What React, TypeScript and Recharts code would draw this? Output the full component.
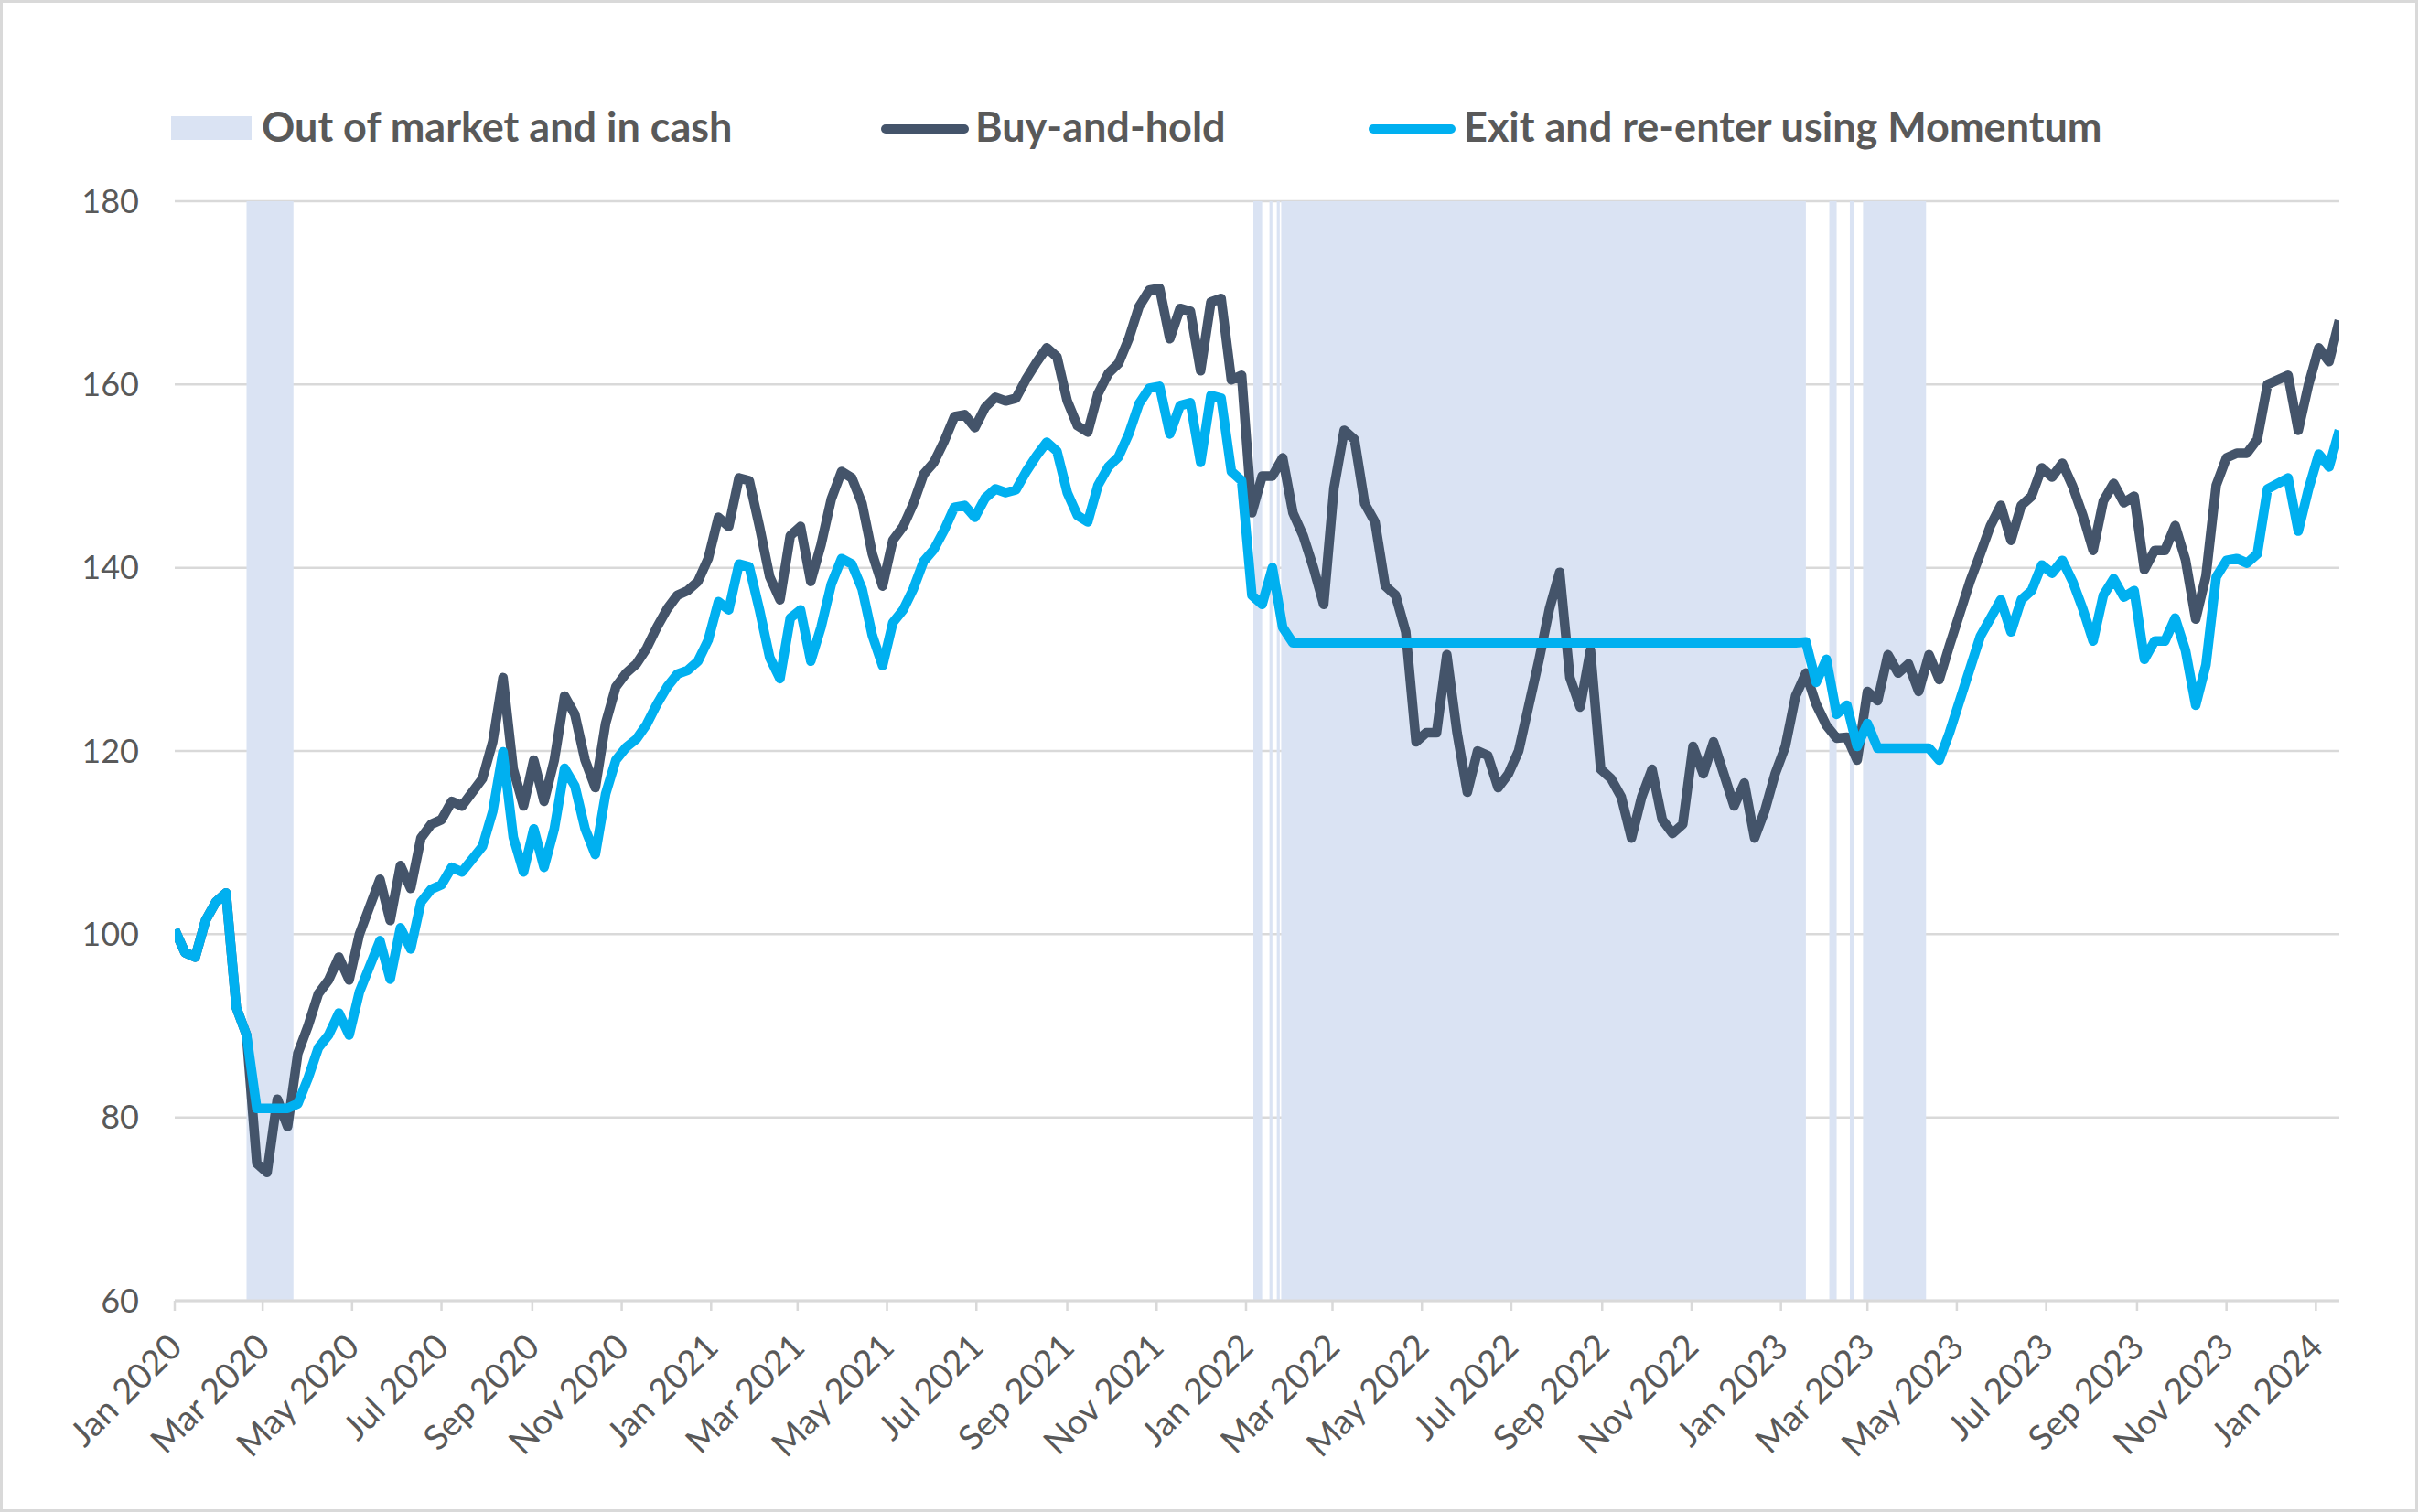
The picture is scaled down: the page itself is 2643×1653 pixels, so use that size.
import { CartesianGrid, Line, LineChart, ReferenceArea, XAxis, YAxis } from "recharts";

// weekly index levels, first point = 1 Jan 2020
const buyAndHold = [
  100.5, 98.0, 97.5, 101.5, 103.5, 104.5, 92.0, 89.0, 75.0, 74.0,
  82.0, 79.0, 87.0, 90.0, 93.5, 95.0, 97.5, 95.0, 100.0, 103.0,
  106.0, 101.5, 107.5, 105.0, 110.5, 112.0, 112.5, 114.5, 114.0, 115.5,
  117.0, 121.0, 128.0, 118.0, 114.0, 119.0, 114.5, 119.0, 126.0, 124.0,
  119.0, 116.0, 123.0, 127.0, 128.5, 129.5, 131.2, 133.5, 135.5, 137.0,
  137.5, 138.5, 141.0, 145.5, 144.5, 149.8, 149.5, 144.5, 139.0, 136.5,
  143.5, 144.5, 138.5, 142.5, 147.5, 150.5, 149.8, 147.0, 141.5, 138.0,
  143.0, 144.5, 147.0, 150.2, 151.5, 153.8, 156.5, 156.7, 155.3, 157.5,
  158.6, 158.2, 158.5, 160.6, 162.4, 164.0, 163.0, 158.2, 155.5, 154.8,
  159.0, 161.2, 162.3, 165.0, 168.5, 170.3, 170.5, 165.0, 168.3, 168.0,
  161.5, 169.0, 169.4, 160.5, 161.0, 146.0, 150.0, 150.0, 152.0, 146.0,
  143.5, 140.0, 136.0, 148.7, 155.0, 154.0, 147.0, 145.0, 138.0, 137.0,
  133.0, 121.0, 122.0, 122.0, 130.5, 122.0, 115.5, 120.0, 119.5, 116.0,
  117.5, 120.0, 125.0, 130.0, 135.5, 139.5, 128.0, 124.8, 131.0, 118.0,
  117.0, 115.0, 110.5, 115.0, 118.0, 112.5, 111.0, 112.0, 120.5, 117.5,
  121.0, 117.5, 114.0, 116.5, 110.5, 113.5, 117.5, 120.5, 126.0, 128.5,
  125.1, 122.8, 121.4, 121.5, 119.0, 126.5, 125.5, 130.5, 128.5, 129.5,
  126.5, 130.5, 127.8, 131.5, 135.0, 138.5, 141.5, 144.6, 146.8, 143.0,
  146.8, 147.8, 150.9, 149.9, 151.4, 148.9, 145.7, 141.9, 147.3, 149.2,
  147.1, 147.8, 139.8, 141.9, 141.9, 144.6, 140.9, 134.4, 139.1, 149.0,
  152.0, 152.5, 152.5, 154.0, 160.0, 160.5, 161.0, 155.0, 160.0, 164.0,
  162.5, 167.0,
];

const momentum = [
  100.5, 98.0, 97.5, 101.5, 103.5, 104.5, 92.0, 89.0, 81.0, 81.0,
  81.0, 81.0, 81.5, 84.3, 87.6, 89.0, 91.4, 89.0, 93.7, 96.5,
  99.3, 95.1, 100.7, 98.4, 103.5, 104.9, 105.4, 107.3, 106.8, 108.2,
  109.6, 113.4, 119.9, 110.6, 106.8, 111.5, 107.3, 111.5, 118.1, 116.2,
  111.5, 108.7, 115.3, 119.0, 120.4, 121.3, 122.9, 125.1, 127.0, 128.4,
  128.8, 129.8, 132.1, 136.3, 135.4, 140.4, 140.1, 135.4, 130.2, 127.9,
  134.5, 135.4, 129.8, 133.5, 138.2, 141.0, 140.4, 137.7, 132.6, 129.3,
  134.0, 135.4, 137.7, 140.7, 142.0, 144.1, 146.6, 146.8, 145.5, 147.6,
  148.6, 148.2, 148.5, 150.5, 152.2, 153.7, 152.7, 148.2, 145.7, 145.0,
  149.0, 151.0, 152.1, 154.6, 157.9, 159.6, 159.8, 154.6, 157.7, 158.0,
  151.5, 158.8, 158.5, 150.5, 149.5, 137.0, 136.0, 140.0, 133.5, 131.8,
  131.8, 131.8, 131.8, 131.8, 131.8, 131.8, 131.8, 131.8, 131.8, 131.8,
  131.8, 131.8, 131.8, 131.8, 131.8, 131.8, 131.8, 131.8, 131.8, 131.8,
  131.8, 131.8, 131.8, 131.8, 131.8, 131.8, 131.8, 131.8, 131.8, 131.8,
  131.8, 131.8, 131.8, 131.8, 131.8, 131.8, 131.8, 131.8, 131.8, 131.8,
  131.8, 131.8, 131.8, 131.8, 131.8, 131.8, 131.8, 131.8, 131.8, 131.9,
  127.5, 130.0, 124.0, 125.0, 120.5, 123.0, 120.3, 120.3, 120.3, 120.3,
  120.3, 120.3, 119.0, 122.0, 125.5, 129.0, 132.5, 134.5, 136.5, 133.0,
  136.5, 137.5, 140.3, 139.4, 140.8, 138.5, 135.5, 132.0, 137.0, 138.8,
  136.8, 137.5, 130.0, 132.0, 132.0, 134.5, 131.0, 125.0, 129.4, 139.0,
  140.8, 141.0, 140.5, 141.5, 148.6, 149.2, 149.8, 144.0, 148.6, 152.4,
  151.0, 155.0,
];

const tickLabels = [
  "Jan 2020", "Mar 2020", "May 2020", "Jul 2020", "Sep 2020", "Nov 2020",
  "Jan 2021", "Mar 2021", "May 2021", "Jul 2021", "Sep 2021", "Nov 2021",
  "Jan 2022", "Mar 2022", "May 2022", "Jul 2022", "Sep 2022", "Nov 2022",
  "Jan 2023", "Mar 2023", "May 2023", "Jul 2023", "Sep 2023", "Nov 2023",
  "Jan 2024",
];

const yTicks = [60, 80, 100, 120, 140, 160, 180];

// periods when the momentum strategy sat in cash
const cashPeriods: [string, string][] = [
  ["2020-02-19", "2020-03-22"],
  ["2022-01-06", "2022-01-12"],
  ["2022-01-17", "2022-01-19"],
  ["2022-01-22", "2022-01-24"],
  ["2022-01-25", "2023-01-18"],
  ["2023-02-03", "2023-02-08"],
  ["2023-02-17", "2023-02-20"],
  ["2023-02-26", "2023-04-10"],
];

const MONTHS = ["Jan", "Feb", "Mar", "Apr", "May", "Jun", "Jul", "Aug", "Sep", "Oct", "Nov", "Dec"];
const DAY_MS = 86400000;
const START = Date.UTC(2020, 0, 1);
const LAST_DAY = (buyAndHold.length - 1) * 7;

const TEXT = "#595959";
const GRID = "#d9d9d9";
const SHADE = "#dae3f3";
const DARK = "#44546a";
const BLUE = "#00b0f0";
const FONT = "Lato, 'Open Sans', sans-serif";

function dayOf(iso: string) {
  const [y, m, d] = iso.split("-").map(Number);
  return (Date.UTC(y, m - 1, d) - START) / DAY_MS;
}

function labelDay(label: string) {
  const [mon, year] = label.split(" ");
  return (Date.UTC(Number(year), MONTHS.indexOf(mon), 1) - START) / DAY_MS;
}

const xTicks = tickLabels.map(labelDay);

const chartData = buyAndHold.map((value, i) => ({
  day: i * 7,
  buyHold: value,
  momentum: momentum[i],
}));

function DateTick({ x, y, payload }: any) {
  const label = tickLabels[xTicks.indexOf(payload.value)];
  const ax = x + 10;
  const ay = y + 40;
  return (
    <text
      x={ax}
      y={ay}
      transform={`rotate(-45 ${ax} ${ay})`}
      textAnchor="end"
      fill={TEXT}
      fontSize={38}
      fontFamily={FONT}
    >
      {label}
    </text>
  );
}

function LegendRow() {
  return (
    <svg
      width={2643}
      height={200}
      style={{ position: "absolute", left: 0, top: 0 }}
    >
      <rect x={187} y={127} width={88} height={26} fill={SHADE} />
      <text x={286} y={154.5} fill={TEXT} fontSize={45} fontWeight={700} fontFamily={FONT}>
        Out of market and in cash
      </text>
      <line x1={968} x2={1054} y1={141} y2={141} stroke={DARK} strokeWidth={10} strokeLinecap="round" />
      <text x={1066} y={154.5} fill={TEXT} fontSize={45} fontWeight={700} fontFamily={FONT}>
        Buy-and-hold
      </text>
      <line x1={1501} x2={1586} y1={141} y2={141} stroke={BLUE} strokeWidth={10} strokeLinecap="round" />
      <text x={1600} y={154.5} fill={TEXT} fontSize={45} fontWeight={700} fontFamily={FONT}>
        Exit and re-enter using Momentum
      </text>
    </svg>
  );
}

export default function App() {
  return (
    <div
      style={{
        position: "absolute",
        left: 0,
        top: 0,
        width: 2643,
        height: 1653,
        background: "#fff",
        overflow: "hidden",
      }}
    >
      <LineChart
        width={2643}
        height={1653}
        data={chartData}
        margin={{ top: 220, right: 86, bottom: 81, left: 91 }}
        style={{ position: "absolute", left: 0, top: 0 }}
      >
        <CartesianGrid vertical={false} stroke={GRID} strokeWidth={2.5} />
        {cashPeriods.map(([from, to]) => (
          <ReferenceArea
            key={from}
            x1={dayOf(from)}
            x2={dayOf(to)}
            fill={SHADE}
            fillOpacity={1}
            stroke="none"
            ifOverflow="hidden"
          />
        ))}
        <XAxis
          dataKey="day"
          type="number"
          domain={[0, LAST_DAY]}
          ticks={xTicks}
          interval={0}
          height={150}
          tick={<DateTick />}
          tickSize={11}
          tickMargin={2}
          axisLine={{ stroke: GRID, strokeWidth: 3 }}
          tickLine={{ stroke: GRID, strokeWidth: 2.5 }}
          allowDataOverflow
        />
        <YAxis
          domain={[60, 180]}
          ticks={yTicks}
          width={100}
          axisLine={false}
          tickLine={false}
          tickSize={0}
          tickMargin={39}
          tick={{ fill: TEXT, fontSize: 36, fontFamily: FONT }}
        />
        <Line
          type="linear"
          dataKey="buyHold"
          stroke={DARK}
          strokeWidth={10.5}
          strokeLinejoin="round"
          dot={false}
          isAnimationActive={false}
        />
        <Line
          type="linear"
          dataKey="momentum"
          stroke={BLUE}
          strokeWidth={10.5}
          strokeLinejoin="round"
          dot={false}
          isAnimationActive={false}
        />
      </LineChart>
      <LegendRow />
      <div
        style={{
          position: "absolute",
          left: 0,
          top: 0,
          width: 2643,
          height: 1653,
          boxSizing: "border-box",
          border: `3px solid ${GRID}`,
          pointerEvents: "none",
        }}
      />
    </div>
  );
}
